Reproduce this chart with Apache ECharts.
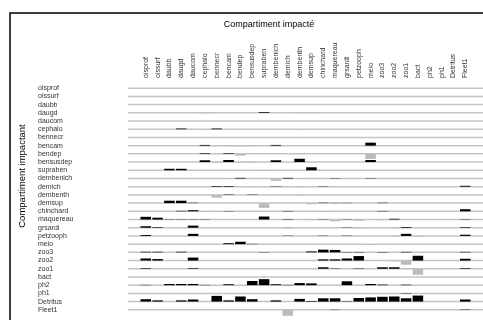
<!DOCTYPE html>
<html>
<head>
<meta charset="utf-8">
<script src="https://cdn.jsdelivr.net/npm/echarts@6/dist/echarts.min.js"></script>
<style>
  html, body { margin: 0; padding: 0; background: #fff; }
  #chart { width: 483px; height: 320px; }
</style>
</head>
<body>
<div id="chart"></div>
<script>
// compartments, same order for rows (impacting) and columns (impacted)
const compartments = ['oisprof', 'oissurf', 'daubb', 'daugd', 'daucom', 'cephalo', 'bennecr', 'bencam',
  'bendep', 'bensusdep', 'supraben', 'dembenich', 'demich', 'dembenth', 'demsup', 'chinchard',
  'maquereau', 'grsardi', 'petzooph', 'meio', 'zoo3', 'zoo2', 'zoo1', 'bact', 'ph2', 'ph1',
  'Detritus', 'Fleet1'];

// impact of row compartment on column compartment
const impacts = [
  /* oisprof   */ [0,0,0,0,0,0,0,0,0,0,0,0,0,0,0,0,0,0,0,0,0,0,0,0,0,0,0,0],
  /* oissurf   */ [0,0,0,0,0,0,0,0,0,0,0,0,0,0,0,0,0,0,0,0,0,0,0,0,0,0,0,0],
  /* daubb     */ [0,0,0,0,0,0,0,0,0,0,0,0,0,0,0,0,0,0,0,0,0,0,0,0,0,0,0,0],
  /* daugd     */ [0,0,0,0,0,-0.08,0,0,0,0,0.12,0,0,-0.05,-0.05,0,0,0,0,0,0,0,0,0,0,0,0,0],
  /* daucom    */ [0,0,0,0,0,0,0,0,0,0,0,0,0,0,0,0,0,0,0,0,0,0,0,0,0,0,0,0],
  /* cephalo   */ [0,0,0,0.12,0,-0.06,0.12,0,0,0,0,0,0,-0.05,0,0,0,0,0,0,0,0,0,0,0,0,0,0],
  /* bennecr   */ [0,0,0,0,0,0,0,0,0,0,0,0,0,0,0,0,0,0,0,0,0,0,0,0,0,0,0,0],
  /* bencam    */ [0,0,0,0,0,0.12,-0.05,-0.1,-0.12,-0.1,0,0.12,0,-0.05,0,0,0,0,0,0.5,0,0,0,0,0,0,0,0],
  /* bendep    */ [0,0,0,0,0,0.1,0,0.1,-0.3,0,0,0,0,-0.03,0,0,0,0,0,-0.85,0,0,0,0,0,0,0,0],
  /* bensusdep */ [0,0,0,0,0,0.3,-0.12,0.35,-0.08,-0.1,0,0.3,0,0.55,0,0,0,0,0,0.35,0,0,0,0,0,0,0,0],
  /* supraben  */ [0,0,0.25,0.25,0,0,0,0,0,0,-0.12,0,0,0,0.5,0,0,0,0,0,0,0,0,0,0,0,0,0],
  /* dembenich */ [0,0,0,0,0,0,0,-0.08,0.1,0,0,-0.4,0.1,-0.08,0,0,0.05,0,0,0.05,0,0,0,0,0,0,0,0],
  /* demich    */ [0,0,0,0,0,0,0.1,0.1,0,-0.06,0,0.05,-0.05,-0.08,0,0.05,0,0,0,0,0,0,0,0,0,0,0,0.15],
  /* dembenth  */ [0,0,0,0,0,0,-0.45,0.06,0,0.05,0,-0.06,0,-0.1,0,0,0,0,0,0,0,0,0,0,0,0,0,0],
  /* demsup    */ [-0.05,0,0.4,0.4,0.06,0,0,0,0,0,-0.8,0,0,0,-0.2,0.06,0.04,0.04,0,0,0.06,0,0,0,0,0,0,0],
  /* chinchard */ [0,0,0,0.08,0.18,-0.12,0,0.04,0,0,0,0,0.06,0,0,-0.1,0,0,0,0,0.06,0,0,0,0,0,0,0.35],
  /* maquereau */ [0.45,0.3,0.04,0.04,0.04,0.04,0,0,0,0,0.5,0,0.06,0,-0.1,0.04,-0.3,0.04,-0.2,0,-0.12,0.12,0,0,0,0,0,0.05],
  /* grsardi   */ [0.25,0.1,0,0,0.35,0,0,0,0,0,0,0,-0.12,0,0,0,0,0.04,-0.08,0,0,-0.08,0.12,0,0,0,0,0.1],
  /* petzooph  */ [0.15,0,0,0,0.35,0,0,0,0,0,0,0,0.04,0,0,0.04,0,0.04,-0.06,0,0,-0.08,0.35,-0.1,0,0,0,0.2],
  /* meio      */ [0,0,0,0,0,0,0,0.15,0.4,0.05,0,0,0,0,0,0,0,0,0,-0.12,0,0,0,0,0,0,0,0],
  /* zoo3      */ [0.1,0.1,0,0.1,0,0,0,0,0,0,0.04,0,0,0,0.15,0.45,0.4,0.05,0.06,0,0.06,0,0.08,0,0,0,0,0.08],
  /* zoo2      */ [0.35,0.25,0,0,0.5,0,0,0,0,0,0,0,0,0,0,0.2,0.2,0.35,0.75,0,0,-0.12,-0.7,0.8,0,0,0,0.3],
  /* zoo1      */ [0.1,0,0,0,0.1,0,0,0,0,0,0,0,0,0,0,0.25,0.05,0,0.06,0,0.25,0.25,-0.08,-1.0,0,0,0,0.1],
  /* bact      */ [0,0,0,0,0,0,0,0,0,0,0,0,0,0,0,0,0,0,0,0,0,0,0,0,0,0,0,0],
  /* ph2       */ [0.05,0,0.2,0.2,0.2,0.05,-0.08,0.15,0,0.7,1.0,0.15,0.05,0.35,0.3,0,0,0.65,0,0.2,0.1,0,0.08,0,0,0,0,0],
  /* ph1       */ [0,0,0,0,0,0,0,0,0,0,0,0,0,0,0,0,0,0,0,0,0,0,0.06,0,0,0,0,0],
  /* Detritus  */ [0.4,0.2,0,0.2,0.35,0,0.95,0.2,0.85,0.4,-0.05,0.2,0,0.45,0.1,0.55,0.55,0.06,0.6,0.7,0.8,0.85,0.55,1.0,0,0,0,0.35],
  /* Fleet1    */ [0,0,0,0,0,0,0,0,0,0,0,0,-1.0,0,0,0,0.04,0,0,0,0,0,0,0,0,0,0,0.06]
];

const positions = compartments.map((_, i) => i);
const BAR_SCALE = 0.73; // row units for an impact of 1
const BAR_HALF = 0.445; // half bar width in column units

const bars = [];
impacts.forEach((row, r) => {
  row.forEach((v, c) => {
    if (v !== 0) bars.push([c, r, v]);
  });
});

const chart = echarts.init(document.getElementById('chart'));
const font = 'Liberation Sans, Arial, sans-serif';

chart.setOption({
  animation: false,
  grid: { left: 128, top: 80, width: 370.2, height: 238 },
  xAxis: {
    type: 'value',
    position: 'top',
    min: -1.5,
    max: 28.5,
    axisLine: { show: false },
    axisTick: { show: false },
    splitLine: { show: false },
    axisLabel: {
      customValues: positions,
      formatter: v => compartments[v],
      rotate: 90,
      margin: 2,
      fontSize: 7,
      fontFamily: font,
      color: '#333'
    }
  },
  yAxis: {
    type: 'value',
    inverse: true,
    min: -1,
    max: 28,
    axisLine: { show: false },
    axisTick: { show: false },
    splitLine: { show: false },
    axisLabel: {
      customValues: positions,
      formatter: v => compartments[v],
      align: 'left',
      margin: 90,
      fontSize: 7,
      fontFamily: font,
      color: '#333'
    }
  },
  graphic: [
    {
      type: 'rect',
      shape: { x: 10, y: 13, width: 700, height: 700 },
      style: { fill: 'none', stroke: '#000', lineWidth: 1.5 }
    },
    {
      type: 'text',
      x: 269, y: 25,
      style: { text: 'Compartiment impacté', font: '9px ' + font, fill: '#000',
        textAlign: 'center', textVerticalAlign: 'middle' }
    },
    {
      type: 'text',
      x: 22, y: 176,
      rotation: Math.PI / 2,
      style: { text: 'Compartiment impactant', font: '9.5px ' + font, fill: '#000',
        textAlign: 'center', textVerticalAlign: 'middle' }
    }
  ],
  series: [
    {
      type: 'custom',
      data: positions,
      silent: true,
      renderItem: (params, api) => {
        const r = api.value(0);
        const a = api.coord([-1.5, r]);
        const b = api.coord([28.5, r]);
        return {
          type: 'line',
          shape: { x1: a[0], y1: a[1], x2: b[0], y2: b[1] },
          style: { stroke: '#c4c4c4', lineWidth: 1.5 }
        };
      }
    },
    {
      type: 'custom',
      data: bars,
      silent: true,
      z: 3,
      renderItem: (params, api) => {
        const c = api.value(0), r = api.value(1), v = api.value(2);
        const p0 = api.coord([c - BAR_HALF, r]);
        const p1 = api.coord([c + BAR_HALF, r - v * BAR_SCALE]);
        return {
          type: 'rect',
          shape: {
            x: p0[0],
            y: Math.min(p0[1], p1[1]),
            width: p1[0] - p0[0],
            height: Math.abs(p1[1] - p0[1])
          },
          style: { fill: v > 0 ? '#000' : '#bbb' }
        };
      }
    }
  ]
});
</script>
</body>
</html>
